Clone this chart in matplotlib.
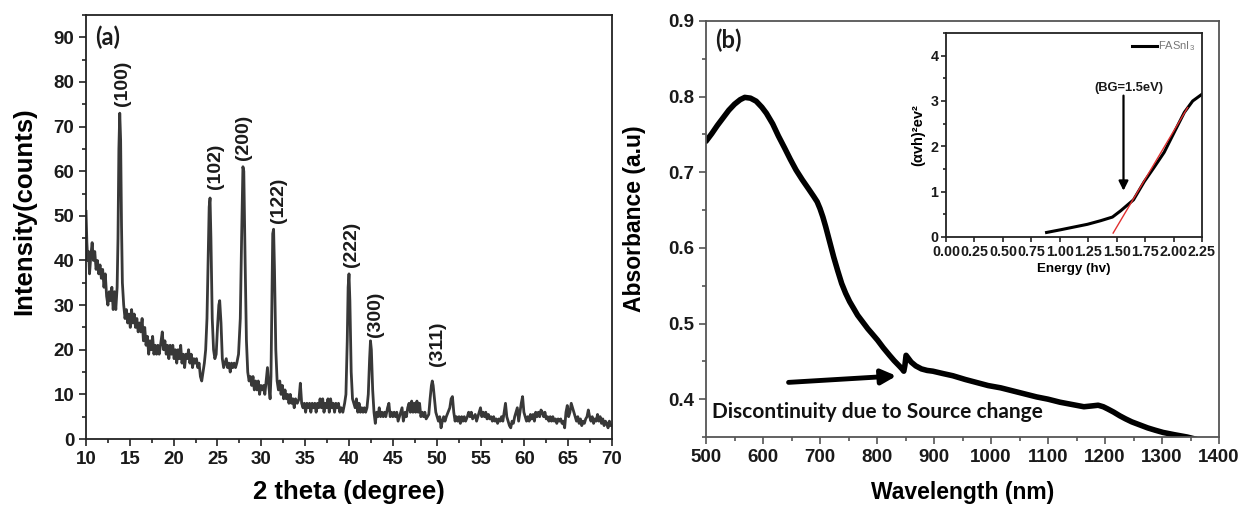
import numpy as np
import matplotlib
matplotlib.use("Agg")
import matplotlib.pyplot as plt
from matplotlib.ticker import MultipleLocator, FormatStrFormatter

plt.rcParams['font.family'] = ['Liberation Sans', 'DejaVu Sans']
plt.rcParams['font.weight'] = 'bold'
plt.rcParams['axes.labelweight'] = 'bold'
plt.rcParams['mathtext.default'] = 'regular'

# (a) XRD pattern
two_theta = [
    10.0, 10.1, 10.2, 10.3, 10.4, 10.55, 10.7, 10.85, 11.0, 11.15,
    11.3, 11.45, 11.6, 11.75, 11.9, 12.05, 12.2, 12.35, 12.5, 12.65,
    12.8, 12.95, 13.1, 13.25, 13.4, 13.55, 13.65, 13.75, 13.85, 13.95,
    14.05, 14.15, 14.3, 14.45, 14.6, 14.75, 14.9, 15.05, 15.2, 15.35,
    15.5, 15.65, 15.8, 15.95, 16.1, 16.25, 16.4, 16.55, 16.7, 16.85,
    17.0, 17.15, 17.3, 17.45, 17.6, 17.75, 17.9, 18.05, 18.2, 18.35,
    18.5, 18.7, 18.85, 19.0, 19.15, 19.3, 19.45, 19.6, 19.75, 19.9,
    20.05, 20.2, 20.35, 20.5, 20.65, 20.8, 20.95, 21.1, 21.25, 21.4,
    21.55, 21.7, 21.85, 22.0, 22.15, 22.3, 22.45, 22.6, 22.75, 22.9,
    23.05, 23.2, 23.35, 23.5, 23.65, 23.8, 23.95, 24.05, 24.15, 24.25,
    24.4, 24.55, 24.7, 24.85, 25.0, 25.15, 25.25, 25.4, 25.55, 25.7,
    25.85, 26.0, 26.15, 26.3, 26.45, 26.6, 26.75, 26.9, 27.05, 27.2,
    27.4, 27.6, 27.75, 27.9, 28.0, 28.15, 28.3, 28.45, 28.6, 28.75,
    28.9, 29.05, 29.2, 29.35, 29.5, 29.65, 29.8, 29.95, 30.1, 30.25,
    30.4, 30.55, 30.7, 30.85, 31.0, 31.1, 31.2, 31.3, 31.4, 31.5,
    31.65, 31.8, 31.95, 32.1, 32.25, 32.4, 32.55, 32.7, 32.85, 33.0,
    33.15, 33.3, 33.45, 33.6, 33.75, 33.9, 34.1, 34.3, 34.45, 34.6,
    34.75, 34.9, 35.05, 35.2, 35.35, 35.5, 35.65, 35.8, 35.95, 36.1,
    36.25, 36.4, 36.55, 36.7, 36.85, 37.0, 37.15, 37.3, 37.45, 37.6,
    37.75, 37.9, 38.05, 38.2, 38.35, 38.5, 38.65, 38.8, 38.95, 39.1,
    39.3, 39.5, 39.65, 39.8, 39.9, 40.0, 40.1, 40.25, 40.4, 40.55,
    40.7, 40.85, 41.0, 41.15, 41.3, 41.45, 41.6, 41.75, 41.9, 42.05,
    42.2, 42.35, 42.45, 42.55, 42.7, 42.85, 43.0, 43.15, 43.3, 43.45,
    43.6, 43.75, 43.9, 44.05, 44.2, 44.4, 44.55, 44.7, 44.85, 45.0,
    45.15, 45.3, 45.45, 45.6, 45.75, 45.9, 46.05, 46.2, 46.4, 46.55,
    46.7, 46.85, 47.0, 47.15, 47.3, 47.45, 47.6, 47.75, 47.9, 48.05,
    48.2, 48.35, 48.5, 48.65, 48.8, 48.95, 49.1, 49.25, 49.4, 49.5,
    49.6, 49.75, 49.9, 50.05, 50.2, 50.35, 50.5, 50.65, 50.8, 50.95,
    51.1, 51.3, 51.5, 51.65, 51.8, 51.95, 52.1, 52.25, 52.4, 52.55,
    52.7, 52.85, 53.0, 53.15, 53.3, 53.5, 53.65, 53.8, 53.95, 54.1,
    54.25, 54.4, 54.55, 54.7, 54.85, 55.0, 55.15, 55.3, 55.45, 55.6,
    55.75, 55.9, 56.05, 56.2, 56.35, 56.5, 56.65, 56.8, 56.95, 57.1,
    57.25, 57.4, 57.55, 57.7, 57.85, 58.0, 58.15, 58.3, 58.45, 58.6,
    58.75, 58.9, 59.05, 59.2, 59.35, 59.5, 59.65, 59.8, 59.95, 60.1,
    60.25, 60.4, 60.55, 60.7, 60.85, 61.0, 61.15, 61.3, 61.45, 61.6,
    61.75, 61.9, 62.05, 62.2, 62.35, 62.5, 62.65, 62.8, 62.95, 63.1,
    63.25, 63.4, 63.55, 63.7, 63.85, 64.0, 64.15, 64.3, 64.45, 64.6,
    64.75, 64.9, 65.05, 65.2, 65.35, 65.5, 65.65, 65.8, 65.95, 66.1,
    66.25, 66.4, 66.55, 66.7, 66.85, 67.0, 67.15, 67.3, 67.45, 67.6,
    67.75, 67.9, 68.05, 68.2, 68.35, 68.5, 68.65, 68.8, 68.95, 69.1,
    69.25, 69.4, 69.55, 69.7, 69.85, 70.0,
]
intensity = [
    51, 44, 40, 42, 37, 41, 44, 40, 42, 38,
    40, 37, 39, 36, 38, 34, 37, 32, 30, 33,
    31, 34, 29, 33, 29, 34, 45, 65, 73, 67,
    48, 35, 30, 27, 29, 26, 28, 25, 29, 26,
    28, 25, 27, 24, 26, 24, 27, 22, 25, 21,
    23, 19, 22, 20, 23, 19, 21, 19, 21, 19,
    21, 24, 20, 22, 19, 21, 18, 21, 19, 21,
    18, 20, 17, 20, 18, 21, 17, 19, 16, 19,
    18, 20, 17, 19, 16, 18, 17, 18, 16, 17,
    14, 13, 15, 17, 20, 27, 42, 52, 54, 45,
    27, 20, 18, 19, 25, 30, 31, 26, 18, 16,
    17, 18, 16, 17, 15, 17, 16, 17, 16, 17,
    19, 27, 45, 61, 60, 40, 22, 15, 13, 14,
    12, 14, 11, 13, 11, 13, 10, 12, 11, 12,
    10, 13, 16, 12, 9, 14, 30, 46, 47, 38,
    20, 13, 11, 13, 10, 12, 9, 11, 9, 10,
    8, 10, 8, 9, 7, 9, 8, 9, 12.5, 8,
    7, 8, 6, 8, 7, 8, 6, 8, 7, 8,
    6, 8, 7, 9, 7, 9, 6, 8, 7, 9,
    6, 9, 7, 8, 6, 8, 7, 8, 6, 7,
    6, 8, 10, 22, 34, 37, 31, 15, 9, 8,
    7, 9, 6, 8, 6, 7, 6, 7, 6, 7,
    10, 18, 22, 20, 11, 6, 3.5, 6, 5, 7,
    5, 6, 5, 6, 5, 7, 8, 5, 6, 5,
    6, 5, 6, 4, 5, 6, 7, 4, 6, 5,
    7, 8, 6, 8.5, 6, 8, 6, 8.5, 6, 8,
    5, 6, 5, 6, 4.5, 5, 5.5, 9, 12, 13,
    12, 9, 6, 5, 4, 5, 2.5, 4, 5, 4,
    5, 6, 7, 9, 9.5, 6, 4, 5, 4, 5,
    3.5, 5, 4, 5, 4, 5, 6, 5, 6, 4.5,
    5, 5.5, 4, 5, 6, 7, 5, 6, 5, 6,
    4.5, 5.5, 4.5, 5, 4, 5, 4, 4.5, 3.5, 4.5,
    4, 5, 4, 6, 8, 5, 4, 3, 2.5, 4,
    3.5, 5, 6, 7, 4, 6, 8, 9.5, 6, 5,
    4, 5, 4, 5.5, 4.5, 5.5, 4, 6, 5, 6,
    5, 6.5, 6, 5, 6, 4.5, 5, 4, 5, 4,
    5, 4, 4.5, 3.5, 4.5, 4, 4.5, 3.5, 4, 2.5,
    6, 7.5, 5, 6, 8, 7, 6, 5, 4, 5,
    3.5, 4.5, 3, 4, 3.5, 4.5, 5, 6.5, 5, 4,
    5, 3.5, 4.5, 4, 5.5, 4, 5, 3.5, 4.5, 3,
    4, 3.5, 2.5, 4, 3, 3,
]
peak_labels = ['(100)', '(102)', '(200)', '(122)', '(222)', '(300)', '(311)']
peak_label_x = [14.2, 24.8, 27.95, 32.0, 40.3, 43.0, 50.1]
peak_label_y = [74.5, 56, 62.4, 48.5, 38.5, 22.8, 16.4]

# (b) absorbance spectrum
wavelength = [500, 510, 520, 530, 540, 550, 560, 568, 578, 588,
              598, 606, 617, 627, 638, 648, 658, 669, 680, 689,
              695, 700, 705, 710, 717, 724, 731, 738, 745, 752,
              759, 766, 775, 784, 792, 801, 811, 822, 830, 839,
              844, 847, 849, 851, 854, 860, 868, 878, 888, 898,
              915, 933, 955, 975, 995, 1017, 1038, 1059, 1080, 1100,
              1121, 1142, 1163, 1176, 1188, 1197, 1205, 1215, 1226, 1236,
              1247, 1261, 1275, 1288, 1302, 1322, 1344, 1360]
absorbance = [0.741, 0.751, 0.762, 0.772, 0.782, 0.790, 0.796, 0.799, 0.798, 0.794,
              0.786, 0.778, 0.764, 0.748, 0.732, 0.717, 0.703, 0.690, 0.678, 0.668,
              0.661, 0.652, 0.641, 0.628, 0.608, 0.588, 0.570, 0.553, 0.540, 0.529,
              0.520, 0.511, 0.502, 0.493, 0.486, 0.478, 0.468, 0.458, 0.451, 0.444,
              0.440, 0.437, 0.445, 0.458, 0.455, 0.449, 0.444, 0.440, 0.438, 0.437,
              0.434, 0.431, 0.426, 0.422, 0.418, 0.415, 0.411, 0.407, 0.403, 0.400,
              0.396, 0.393, 0.390, 0.391, 0.392, 0.390, 0.387, 0.383, 0.378, 0.374,
              0.370, 0.366, 0.362, 0.359, 0.356, 0.353, 0.350, 0.347]

# inset: Tauc plot
energy = [0.884, 1.008, 1.125, 1.243, 1.36, 1.463, 1.536, 1.648, 1.742, 1.830,
          1.918, 2.006, 2.095, 2.168, 2.25]
tauc = [0.10, 0.16, 0.22, 0.28, 0.36, 0.44, 0.58, 0.82, 1.22, 1.54,
        1.87, 2.31, 2.75, 3.00, 3.15]
fit_energy = [1.469, 2.124]
fit_tauc = [0.087, 2.856]

fig = plt.figure(figsize=(12.42, 5.08), dpi=100)

def style_axes(ax, color, size=13.5):
    for s in ax.spines.values():
        s.set_color(color)
        s.set_linewidth(1.3)
    ax.tick_params(which='both', direction='out', top=False, right=False,
                   colors=color, labelcolor='#1a1a1a', labelsize=size, width=1.2)
    ax.tick_params(which='major', length=5)
    ax.tick_params(which='minor', length=3)

# ---- panel (a)
ax1 = fig.add_axes([86/1242, 69/508, 526/1242, 424/508])
ax1.plot(two_theta, intensity, color='#383838', lw=2.0)
ax1.set_xlim(10, 70)
ax1.set_ylim(0, 95)
ax1.xaxis.set_major_locator(MultipleLocator(5))
ax1.xaxis.set_minor_locator(MultipleLocator(2.5))
ax1.yaxis.set_major_locator(MultipleLocator(10))
ax1.yaxis.set_minor_locator(MultipleLocator(5))
style_axes(ax1, '#222222')
for lab, x, y in zip(peak_labels, peak_label_x, peak_label_y):
    ax1.text(x, y, lab, rotation=90, ha='center', va='bottom', fontsize=14, color='#1a1a1a')
ax1.text(0.017, 0.976, '(a)', transform=ax1.transAxes, ha='left', va='top',
         fontsize=17, fontweight='bold', family=['Lato', 'DejaVu Sans'], color='#1a1a1a')
ax1.set_xlabel('2 theta (degree)', fontsize=18.5)
ax1.set_ylabel('Intensity(counts)', fontsize=18.5)
ax1.xaxis.set_label_coords(0.5, (439-492)/424)
ax1.xaxis.label.set_va('center')
ax1.yaxis.set_label_coords((24-86)/526, 0.538)
ax1.yaxis.label.set_va('center')

# ---- panel (b)
ax2 = fig.add_axes([706/1242, 71/508, 513/1242, 416/508])
ax2.plot(wavelength, absorbance, color='black', lw=4, solid_joinstyle='round', solid_capstyle='round')
ax2.set_xlim(500, 1400)
ax2.set_ylim(0.35, 0.9)
ax2.xaxis.set_major_locator(MultipleLocator(100))
ax2.xaxis.set_minor_locator(MultipleLocator(50))
ax2.yaxis.set_major_locator(MultipleLocator(0.1))
ax2.yaxis.set_minor_locator(MultipleLocator(0.05))
ax2.yaxis.set_major_formatter(FormatStrFormatter('%.1f'))
style_axes(ax2, '#555555')
ax2.annotate('', xy=(839, 0.431), xytext=(640, 0.422),
             arrowprops=dict(arrowstyle='-|>', lw=3.5, color='black', mutation_scale=22))
ax2.text(510, 0.383, 'Discontinuity due to Source change', ha='left', va='center',
         fontsize=15, fontweight='bold', family=['Lato', 'DejaVu Sans'], color='#111111')
ax2.text(0.0175, 0.983, '(b)', transform=ax2.transAxes, ha='left', va='top',
         fontsize=17, fontweight='bold', family=['Lato', 'DejaVu Sans'], color='#1a1a1a')
ax2.set_xlabel('Wavelength (nm)', fontsize=16.5)
ax2.set_ylabel('Absorbance (a.u)', fontsize=16.5)
ax2.xaxis.set_label_coords(0.5, (437-493)/416)
ax2.xaxis.label.set_va('center')
ax2.yaxis.set_label_coords((634-706)/513, 0.524)
ax2.yaxis.label.set_va('center')

# ---- inset
ax3 = fig.add_axes([946/1242, 271/508, 256/1242, 204/508])
ax3.plot(energy, tauc, color='black', lw=2.2, label='FASnI$_3$')
ax3.plot(fit_energy, fit_tauc, color='#e03030', lw=1.0)
ax3.set_xlim(0, 2.25)
ax3.set_ylim(0, 4.5)
ax3.xaxis.set_major_locator(MultipleLocator(0.25))
ax3.xaxis.set_major_formatter(FormatStrFormatter('%.2f'))
ax3.yaxis.set_major_locator(MultipleLocator(1))
ax3.yaxis.set_minor_locator(MultipleLocator(0.5))
style_axes(ax3, '#222222', size=10.3)
ax3.tick_params(which='major', length=3.5, pad=2)
ax3.tick_params(which='minor', length=2)
ax3.annotate('', xy=(1.56, 0.96), xytext=(1.56, 3.18),
             arrowprops=dict(arrowstyle='-|>', lw=1.6, color='black', mutation_scale=14))
ax3.text(1.61, 3.28, '(BG=1.5eV)', ha='center', va='center', fontsize=9.3, color='#1a1a1a')
ax3.set_xlabel('Energy (hv)', fontsize=9.6, labelpad=3)
ax3.set_ylabel('(\u03b1vh)\u00b2ev\u00b2', fontsize=10.5, labelpad=4)
leg = ax3.legend(loc='upper right', frameon=False, fontsize=8, handlelength=2.3,
                 handletextpad=0.1, borderaxespad=0.2, labelcolor='#777777')
for t in leg.get_texts():
    t.set_fontweight('normal')

fig.savefig('out.png', dpi=100)
